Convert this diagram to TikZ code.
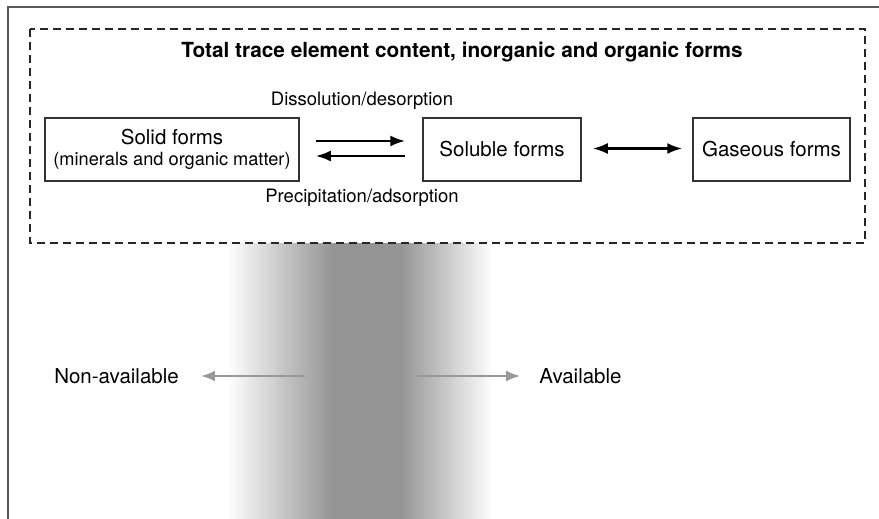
\documentclass[tikz,border=0pt]{standalone}
\usepackage{fontspec}
\setmainfont{TeX Gyre Heros}
\usetikzlibrary{arrows.meta}
\tikzset{
  formbox/.style={draw=black!80,line width=1.5pt,minimum height=63pt,inner sep=0pt,align=center,font=\fontsize{20.5}{22}\selectfont},
  flowlabel/.style={inner sep=0pt,font=\fontsize{18.5}{20}\selectfont},
  sidelabel/.style={inner sep=0pt,font=\fontsize{20.5}{22}\selectfont},
  blackarrow/.style={line width=2.4pt,-{Latex[length=15pt,width=11pt]}},
  greyarrow/.style={draw=black!40,line width=2.4pt,-{Latex[length=14pt,width=11pt]}}
}
\begin{document}
\begin{tikzpicture}[x=1pt,y=-1pt]
	   \useasboundingbox (0,0) rectangle (879,519);
	   % grey band
	   \shade [left color=white,right color=black!42] (227,243) rectangle (333,519);
	   \fill [black!42] (333,243) rectangle (400,519);
	   \shade [left color=black!42,right color=white] (400,243) rectangle (493,519);
	   % frame
	   \draw [black!65,line width=2.4pt] (8,519) -- (8,7) -- (879,7);
	   \draw [black!85,line width=1.5pt,dash pattern=on 8pt off 5pt] (30,29) rectangle (865,243);
	   \node [inner sep=0pt,font=\fontsize{20.8}{22}\selectfont\bfseries] (title) at (462,52) {Total trace element content, inorganic and organic forms};
	   \node [formbox,minimum width=254pt] (solid) at (172,149.5) {Solid forms\\[-1pt]{\fontsize{18.2}{20}\selectfont(minerals and organic matter)}};
	   \node [formbox,minimum width=158pt] (soluble) at (502,149.5) {Soluble forms};
	   \node [formbox,minimum width=157pt] (gaseous) at (771.5,149.5) {Gaseous forms};
	   \node [flowlabel] (dissolution) at (362,101) {Dissolution/desorption};
	   \node [flowlabel] (precipitation) at (362,198) {Precipitation/adsorption};
	   \draw [blackarrow,shorten <=16pt,shorten >=17pt] ([yshift=8.5pt]solid.east) -- ([yshift=8.5pt]soluble.west);
	   \draw [blackarrow,shorten <=17pt,shorten >=16pt] ([yshift=-6.5pt]soluble.west) -- ([yshift=-6.5pt]solid.east);
	   \draw [blackarrow,{Latex[length=15pt,width=11pt]}-{Latex[length=15pt,width=11pt]},shorten <=11pt,shorten >=10pt] ([yshift=1pt]soluble.east) -- ([yshift=1pt]gaseous.west);
	   % availability
	   \node [sidelabel] (nonavail) at (116.5,376) {Non-available};
	   \node [sidelabel] (avail) at (580.5,376) {Available};
	   \coordinate (bandleft) at (305,376);
	   \coordinate (bandright) at (416,376);
	   \draw [greyarrow,shorten >=22pt] (bandleft) -- (nonavail.east);
	   \draw [greyarrow,shorten >=19pt] (bandright) -- (avail.west);
\end{tikzpicture}
\end{document}
